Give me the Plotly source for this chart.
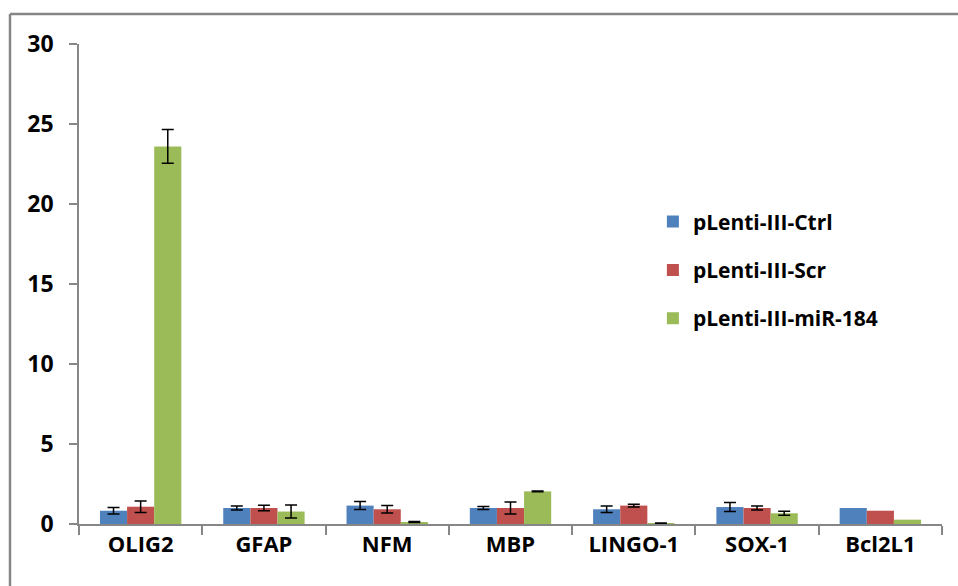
import plotly.graph_objects as go

genes = ["OLIG2", "GFAP", "NFM", "MBP", "LINGO-1", "SOX-1", "Bcl2L1"]

# None = no error bar reported for that gene
ctrl = [0.83, 1.00, 1.15, 1.00, 0.92, 1.06, 1.00]
ctrl_err = [0.20, 0.13, 0.25, 0.09, 0.20, 0.28, None]

scr = [1.08, 1.00, 0.92, 1.00, 1.15, 1.00, 0.83]
scr_err = [0.36, 0.17, 0.24, 0.37, 0.08, 0.12, None]

mir184 = [23.6, 0.78, 0.12, 2.04, 0.05, 0.67, 0.27]
mir184_err = [1.05, 0.41, 0.03, 0.03, 0.02, 0.12, None]

series = [
    ("pLenti-III-Ctrl", ctrl, ctrl_err, "#4F81BD"),
    ("pLenti-III-Scr", scr, scr_err, "#C0504D"),
    ("pLenti-III-miR-184", mir184, mir184_err, "#9BBB59"),
]

font_family = "'Open Sans', Lato, sans-serif"


def err_array(errs):
    # plotly.js skips an error bar whose value is not numeric
    return [e if e is not None else "NaN" for e in errs]


fig = go.Figure()
for name, vals, errs, color in series:
    fig.add_trace(go.Bar(
        x=genes, y=vals, name=name, legendgroup=name,
        marker=dict(color=color, line=dict(width=0)),
        error_y=dict(type="data", array=err_array(errs), visible=True,
                     color="black", thickness=1.5, width=6),
    ))

W, H = 958, 586
left, right, top, bottom = 79, 16, 44, 62

fig.update_layout(
    width=W, height=H,
    margin=dict(l=left, r=right, t=top, b=bottom),
    paper_bgcolor="white", plot_bgcolor="white",
    barmode="group", bargap=0.34, bargroupgap=0,
    font=dict(family=font_family, size=20, color="black"),
    showlegend=True,
    legend=dict(
        x=0.665, y=0.672, xanchor="left", yanchor="top",
        font=dict(family=font_family, size=21, color="black", weight="bold"),
        tracegroupgap=18, bgcolor="rgba(0,0,0,0)",
    ),
    xaxis=dict(
        type="category", showgrid=False, zeroline=False,
        showline=True, linecolor="#868686", linewidth=1.5,
        ticks="outside", tickson="boundaries", ticklen=9,
        tickcolor="#868686", tickwidth=1.5,
        tickfont=dict(family=font_family, size=22, color="black", weight="bold"),
    ),
    yaxis=dict(
        range=[0, 30], tickvals=[0, 5, 10, 15, 20, 25, 30],
        showgrid=False, zeroline=False,
        showline=True, linecolor="#868686", linewidth=1.5,
        ticks="outside", ticklen=8, tickcolor="#868686", tickwidth=1.5,
        ticklabelstandoff=11,
        tickfont=dict(family=font_family, size=23, color="black", weight="bold"),
    ),
)

# Outer chart frame (left and top edges visible)
pw = W - left - right
ph = H - top - bottom
fx0 = (10 - left) / pw
fy1 = (H - bottom - 14) / ph
fig.add_shape(type="line", xref="paper", yref="paper",
              x0=fx0, x1=fx0, y0=-0.2, y1=fy1,
              line=dict(color="#868686", width=2.5))
fig.add_shape(type="line", xref="paper", yref="paper",
              x0=fx0, x1=1.1, y0=fy1, y1=fy1,
              line=dict(color="#868686", width=2.5))

fig.write_html("out.html")
